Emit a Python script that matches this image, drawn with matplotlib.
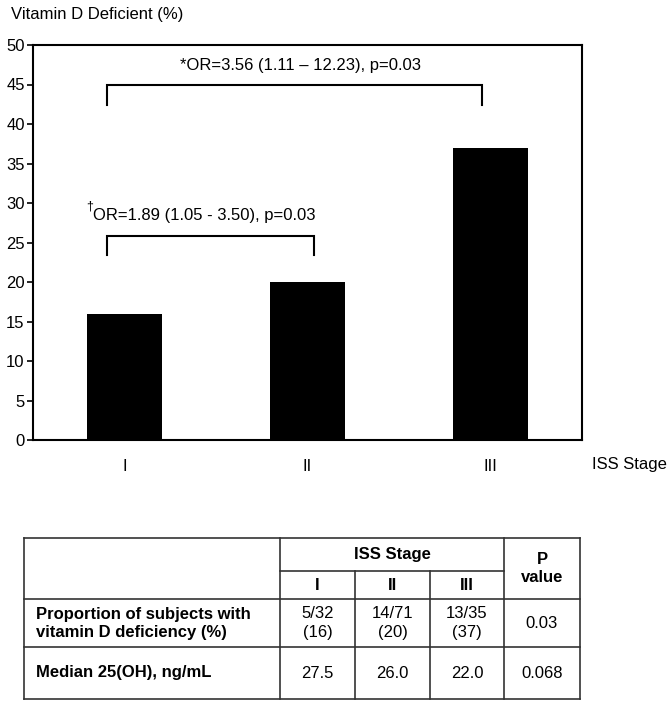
import matplotlib
matplotlib.use("Agg")
import matplotlib.pyplot as plt

plt.rcParams['font.family'] = ['Liberation Sans', 'DejaVu Sans']

# ---- data ----
stages = ["I", "II", "III"]
deficient_pct = [16, 20, 37]
yticks = [0, 5, 10, 15, 20, 25, 30, 35, 40, 45, 50]
ylabel = "Vitamin D Deficient (%)"
xlabel = "ISS Stage"
or_upper = "*OR=3.56 (1.11 \u2013 12.23), p=0.03"
or_lower = "OR=1.89 (1.05 - 3.50), p=0.03"

table_header = "ISS Stage"
table_pcol = "P\nvalue"
row_labels = ["Proportion of subjects with\nvitamin D deficiency (%)", "Median 25(OH), ng/mL"]
row_values = [["5/32\n(16)", "14/71\n(20)", "13/35\n(37)"], ["27.5", "26.0", "22.0"]]
row_p = ["0.03", "0.068"]

W, H = 669, 703
fig = plt.figure(figsize=(W / 100, H / 100), dpi=100)

L, R, T, B = 33, 582, 45, 440
ax = fig.add_axes([L / W, 1 - B / H, (R - L) / W, (B - T) / H])
x = list(range(1, len(stages) + 1))
ax.bar(x, deficient_pct, width=0.41, color="black")
ax.set_xlim(0.5, 3.5)
ax.set_ylim(0, 50)
ax.set_yticks(yticks)
ax.set_xticks(x)
ax.set_xticklabels(stages)
ax.tick_params(axis="y", length=4, width=1.2, labelsize=12, pad=2)
ax.tick_params(axis="x", length=0, labelsize=12, pad=14)
for s in ax.spines.values():
    s.set_linewidth(1.5)

# brackets
lw = 1.5
ax.plot([0.904, 0.904, 2.953, 2.953], [42.4, 45.0, 45.0, 42.4], color="black", lw=lw, solid_joinstyle="miter")
ax.plot([0.904, 0.904, 2.036, 2.036], [23.4, 25.8, 25.8, 23.4], color="black", lw=lw, solid_joinstyle="miter")
ax.text(1.96, 47.4, or_upper, ha="center", va="center", fontsize=12)
ax.text(0.83, 28.4, or_lower, ha="left", va="center", fontsize=12)
ax.text(0.79, 29.5, "\u2020", ha="left", va="center", fontsize=9)

fig.text(11 / W, 1 - 15 / H, ylabel, ha="left", va="center", fontsize=12)
fig.text(592 / W, 1 - 465 / H, xlabel, ha="left", va="center", fontsize=12)

# ---- table ----
tx = fig.add_axes([0, 0, 1, 1])
tx.set_xlim(0, W)
tx.set_ylim(H, 0)
tx.axis("off")
cols = [24, 280, 355, 430, 504, 580]
top, hsub, r1, r2, bot = 538, 571, 599, 647, 699
tlw = 1.2
kw = dict(color="#333333", lw=tlw)
tx.plot([cols[0], cols[-1]], [top, top], **kw)
tx.plot([cols[0], cols[-1]], [bot, bot], **kw)
tx.plot([cols[0], cols[-1]], [r1, r1], **kw)
tx.plot([cols[0], cols[-1]], [r2, r2], **kw)
tx.plot([cols[1], cols[4]], [hsub, hsub], **kw)
for c in [cols[0], cols[1], cols[4], cols[5]]:
    tx.plot([c, c], [top, bot], **kw)
for c in [cols[2], cols[3]]:
    tx.plot([c, c], [hsub, bot], **kw)

fs = 12
tx.text((cols[1] + cols[4]) / 2, (top + hsub) / 2, table_header, ha="center", va="center", fontsize=fs, fontweight="bold")
tx.text((cols[4] + cols[5]) / 2, (top + r1) / 2, table_pcol, ha="center", va="center", fontsize=fs, fontweight="bold", linespacing=1.3)
for i, s in enumerate(stages):
    tx.text((cols[i + 1] + cols[i + 2]) / 2, (hsub + r1) / 2, s, ha="center", va="center", fontsize=fs, fontweight="bold")
row_bounds = [(r1, r2), (r2, bot)]
for j, (lab, vals, p) in enumerate(zip(row_labels, row_values, row_p)):
    y0, y1 = row_bounds[j]
    yc = (y0 + y1) / 2
    tx.text(36, yc, lab, ha="left", va="center", fontsize=fs, fontweight="bold", linespacing=1.25)
    for i, v in enumerate(vals):
        tx.text((cols[i + 1] + cols[i + 2]) / 2, yc, v, ha="center", va="center", fontsize=fs, linespacing=1.25)
    tx.text((cols[4] + cols[5]) / 2, yc, p, ha="center", va="center", fontsize=fs)

fig.savefig("out.png", dpi=100)
